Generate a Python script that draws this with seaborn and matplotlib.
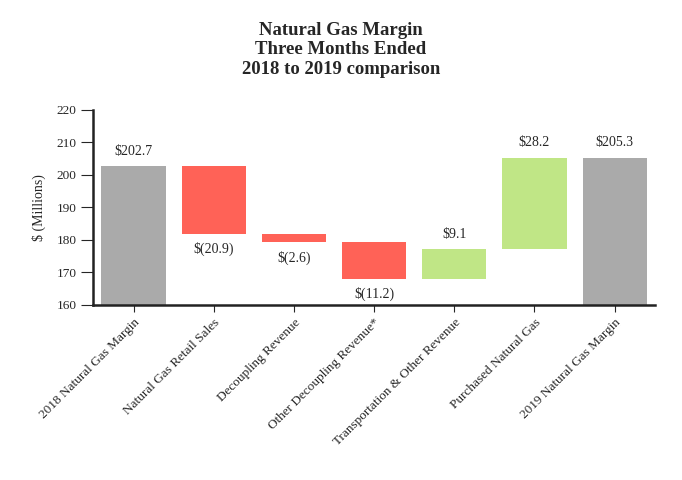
import numpy as np
import matplotlib.pyplot as plt
import seaborn as sns
import pandas as pd

categories = ["2018 Natural Gas Margin", "Natural Gas Retail Sales", "Decoupling Revenue",
              "Other Decoupling Revenue*", "Transportation & Other Revenue",
              "Purchased Natural Gas", "2019 Natural Gas Margin"]
changes = [202.7, -20.9, -2.6, -11.2, 9.1, 28.2, 205.3]
kinds = ["total", "step", "step", "step", "step", "step", "total"]
labels = ["$202.7", "$(20.9)", "$(2.6)", "$(11.2)", "$9.1", "$28.2", "$205.3"]

# running waterfall levels
bottoms, tops = [], []
level = 0.0
for c, k in zip(changes, kinds):
    if k == "total":
        level = c
        bottoms.append(160.0)
        tops.append(c)
    else:
        bottoms.append(level)
        level = level + c
        tops.append(level)
bottoms = np.array(bottoms)
tops = np.array(tops)
lo = np.minimum(bottoms, tops)
hi = np.maximum(bottoms, tops)

colors = []
for c, k in zip(changes, kinds):
    if k == "total":
        colors.append("#aaaaaa")
    elif c < 0:
        colors.append("#ff6257")
    else:
        colors.append("#c0e686")

df = pd.DataFrame({"cat": categories, "hi": hi})

sns.set_style("white")
plt.rcParams['font.family'] = ['Liberation Serif', 'DejaVu Serif']

fig = plt.figure(figsize=(6.82, 4.8), dpi=100)
ax = fig.add_axes([0.137, 0.365, 0.823, 0.406])

sns.barplot(data=df, x="cat", y="hi", hue="cat", palette=colors, legend=False,
            width=0.8, linewidth=0, saturation=1, ax=ax)

for p, b, h in zip(ax.patches, lo, hi):
    p.set_y(b)
    p.set_height(h - b)

for i in range(len(categories)):
    if kinds[i] == "step" and changes[i] < 0:
        ax.annotate(labels[i], (i, lo[i]), xytext=(0, -6), textcoords="offset points",
                    ha="center", va="top", fontsize=10)
    else:
        ax.annotate(labels[i], (i, hi[i]), xytext=(0, 6), textcoords="offset points",
                    ha="center", va="bottom", fontsize=10)

ax.set_ylim(160, 220)
ax.set_xlim(-0.5, 6.5)
ax.set_yticks(range(160, 221, 10))
ax.set_xlabel("")
ax.set_ylabel("$ (Millions)", fontsize=10, labelpad=8)
ax.set_xticks(range(len(categories)))
ax.set_xticklabels(categories, rotation=45, ha="right", rotation_mode="anchor", fontsize=9.5)
ax.tick_params(axis="y", labelsize=9.5, length=9, width=0.8, left=True, pad=3)
ax.tick_params(axis="x", length=5, width=0.8, bottom=True)
sns.despine(ax=ax)
for s in ["left", "bottom"]:
    ax.spines[s].set_linewidth(1.8)
    ax.spines[s].set_color("#222222")

fig.suptitle("Natural Gas Margin\nThree Months Ended\n2018 to 2019 comparison",
             fontsize=13.5, fontweight="bold", y=0.955)

fig.savefig("out.png", dpi=100)
